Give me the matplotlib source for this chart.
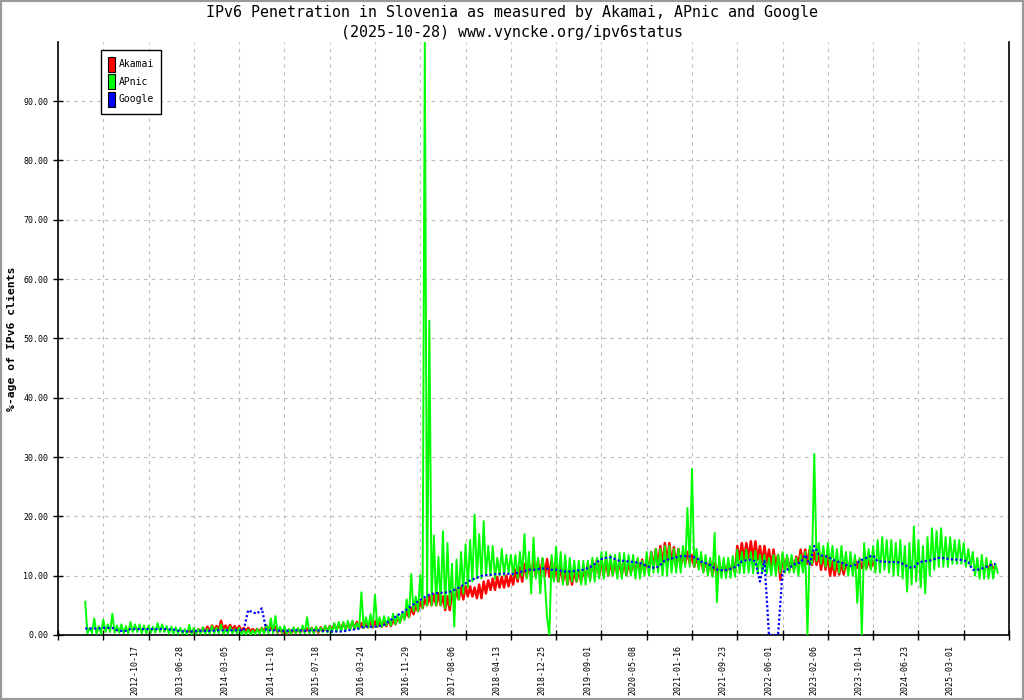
import numpy as np
import matplotlib
matplotlib.use("Agg")
import matplotlib.pyplot as plt
from matplotlib.patches import Patch, Rectangle

# Sample index axis: one sample per day, tick every 250 samples.
# Each column (every 25 samples) holds the daily high and low.
STEP = 25
X_MAX = 5250

tick_labels = [
    "2012-10-17", "2013-06-28", "2014-03-05", "2014-11-10", "2015-07-18",
    "2016-03-24", "2016-11-29", "2017-08-06", "2018-04-13", "2018-12-25",
    "2019-09-01", "2020-05-08", "2021-01-16", "2021-09-23", "2022-06-01",
    "2023-02-06", "2023-10-14", "2024-06-23", "2025-03-01",
]

# APnic, first column at sample 150
apnic_start = 150
apnic_hi = [
    5.6, 1.2, 2.8, 1.5, 2.6, 1.8, 3.6, 1.6, 1.8, 1.5, 2.2, 1.8, 1.8, 1.6, 1.6, 1.4,
    2.0, 1.8, 1.5, 1.4, 1.3, 1.2, 1.0, 1.7, 1.2, 1.0,
    1.3, 1.0, 1.5, 1.2, 1.8, 1.0, 1.4, 1.0, 1.2, 0.8, 0.9, 0.8, 1.0, 1.2, 1.6, 2.8,
    3.2, 1.4, 1.5, 1.0, 1.3, 1.2, 1.6, 3.0, 1.2, 1.4, 1.2, 1.6, 1.5,
    2.0, 2.2, 2.2, 2.4, 2.4, 2.0, 7.2, 3.0, 3.5, 6.8, 3.0, 3.2, 3.0, 3.6, 3.5,
    3.8, 6.0, 10.3, 6.5, 10.1, 100.0, 53.0, 16.8, 13.2, 17.5, 15.5, 12.0, 12.7,
    14.0, 15.3, 16.0, 20.3, 17.0, 19.2, 15.0, 15.0, 13.0, 14.5, 13.5, 13.5, 13.5, 14.0,
    17.0, 14.0, 16.4, 13.0, 13.0, 3.0,
    13.5, 14.9, 14.0, 13.5, 13.0, 12.5, 12.5, 12.5, 12.5, 13.0, 13.0, 14.0, 14.0, 13.5,
    13.5, 13.8, 13.8, 13.5, 13.5, 13.0, 12.5, 14.0, 14.0, 14.5, 14.5, 15.0, 15.0, 14.5, 14.5,
    15.0, 21.4, 28.0, 14.5, 14.0, 13.5, 13.0, 17.2, 13.3, 13.0, 13.0, 13.3, 14.4, 14.0,
    14.4, 14.0, 14.2, 13.5, 13.5, 13.0, 13.5, 13.5,
    14.0, 13.5, 13.5, 13.0, 13.5, 14.0, 15.0, 30.5, 15.5, 15.0, 15.5, 15.0, 14.5, 15.0,
    14.0, 14.0, 13.5, 13.0, 15.5, 14.5,
    15.0, 16.0, 16.5, 16.0, 16.0, 15.5, 16.0, 15.0, 15.5, 18.3, 16.0, 15.0, 16.5, 18.0,
    17.5, 18.0, 16.5, 16.5, 16.0, 16.0, 15.5, 14.5, 14.0, 13.0, 13.5, 13.0, 12.5, 12.0,
]
apnic_lo = [
    0.3, 0.3, 0.2, 0.2, 0.5, 0.5, 0.4, 0.4, 0.3, 0.3, 0.5, 0.5, 0.3, 0.3, 0.4, 0.4,
    0.5, 0.5, 0.2, 0.2, 0.2, 0.2, 0.1, 0.1, 0.2, 0.2,
    0.2, 0.2, 0.3, 0.3, 0.2, 0.2, 0.3, 0.3, 0.1, 0.1, 0.1, 0.1, 0.2, 0.2, 0.3, 0.3,
    0.4, 0.4, 0.2, 0.2, 0.3, 0.3, 0.3, 0.3, 0.3, 0.5, 0.5, 0.4, 0.4,
    0.6, 0.6, 0.8, 0.8, 1.0, 1.0, 1.2, 1.2, 1.4, 1.4, 1.4, 1.6, 1.6, 1.8, 2.0,
    2.5, 3.0, 4.0, 4.0, 4.5, 5.0, 5.0, 5.0, 5.0, 4.5, 5.0, 1.4, 6.0,
    7.0, 8.0, 9.0, 9.5, 9.5, 10.0, 10.0, 9.5, 10.0, 10.0, 10.5, 10.0, 9.5, 10.0,
    9.5, 7.0, 9.5, 7.0, 9.0, 0.0,
    9.0, 9.0, 8.5, 8.5, 9.0, 9.0, 8.5, 8.5, 9.0, 9.0, 9.5, 9.5, 10.0, 10.0,
    9.5, 9.5, 10.0, 10.0, 9.5, 9.5, 10.0, 10.0, 10.5, 10.5, 10.0, 10.0, 10.5, 10.5, 10.5,
    11.5, 11.5, 11.5, 11.0, 10.5, 10.0, 9.8, 5.5, 9.6, 9.6, 9.6, 9.8, 10.4, 10.4,
    10.5, 10.4, 10.4, 10.4, 10.4, 10.0, 10.0, 10.5,
    10.5, 10.5, 10.5, 10.0, 10.5, 0.0, 12.0, 12.5, 12.0, 11.5, 11.5, 11.0, 10.5, 11.0,
    10.0, 10.0, 5.4, 0.0, 11.0, 11.0,
    10.5, 10.5, 11.0, 10.5, 10.0, 10.0, 9.5, 7.3, 8.5, 9.0, 8.0, 7.0, 10.0, 11.0,
    11.5, 11.5, 11.5, 12.0, 12.0, 12.0, 11.5, 11.5, 10.0, 9.5, 9.5, 9.5, 9.5, 10.5,
]

# Akamai, first column at sample 725, no data for a while after 2023-10
akamai_start = 725
akamai_hi = [
    0.7, 0.9, 1.0, 1.2, 1.4, 1.6, 1.5, 2.4, 1.6, 1.7, 1.5, 1.5, 1.2, 1.2, 1.0, 1.0,
    1.2, 1.6, 1.5, 1.4, 1.0, 0.9, 0.9, 1.0, 1.0, 1.1, 1.1, 1.2, 1.2, 1.3, 1.4, 1.5,
    1.8, 1.8, 2.0, 2.0, 2.2, 2.2, 2.0, 2.0, 2.3, 2.3, 2.2, 2.2, 2.6, 2.6, 3.0,
    3.4, 4.0, 4.6, 5.0, 5.6, 6.0, 6.6, 6.8, 7.0, 6.5, 6.5, 7.0, 7.6, 8.0, 8.2, 8.2,
    8.0, 8.5, 9.0, 9.2, 9.5, 9.8, 9.8, 10.0, 10.0, 11.0, 11.5, 12.0, 12.0, 12.5, 12.5,
    12.8, 12.8, 12.7,
    11.5, 11.5, 11.0, 11.0, 11.0, 11.0, 10.8, 12.0, 12.5, 12.7, 12.7, 12.7, 12.5, 12.5,
    12.5, 12.5, 12.2, 12.5, 12.7, 12.7, 12.5, 14.0, 14.5, 15.0, 15.5, 15.5, 14.8, 14.5,
    14.0, 14.0, 13.5, 13.2, 13.0, 12.7, 12.5, 12.1, 12.0, 12.0, 12.0, 12.5,
    15.0, 15.5, 15.5, 15.8, 15.8, 15.0, 15.0, 14.4, 14.4, 13.5, 13.5, 13.0, 13.0, 13.2,
    14.4, 14.4, 14.4, 14.0, 14.0, 13.6, 13.6, 12.4, 12.4, 12.2, 12.2, 12.7, 12.7, 12.7,
    12.7, 12.5, 12.5,
] + [np.nan] * 24 + [12.0, 12.0]
akamai_lo = [
    0.3, 0.4, 0.4, 0.6, 0.6, 0.8, 0.8, 0.9, 0.9, 0.8, 0.8, 0.7, 0.7, 0.6, 0.6, 0.5,
    0.5, 0.7, 0.7, 0.4, 0.4, 0.2, 0.2, 0.4, 0.4, 0.5, 0.5, 0.4, 0.4, 0.6, 0.6, 0.9,
    0.9, 1.0, 1.0, 1.1, 1.1, 1.2, 1.2, 1.3, 1.3, 1.4, 1.4, 1.5, 1.5, 1.8, 2.2,
    2.8, 3.0, 3.5, 4.0, 4.5, 5.0, 5.0, 5.0, 5.0, 4.2, 4.2, 5.5, 6.0, 6.0, 6.5, 6.5,
    6.2, 6.2, 7.0, 7.6, 7.6, 8.0, 8.0, 8.2, 8.5, 9.0, 9.0, 9.8, 9.8, 10.0, 9.9,
    9.9, 9.8, 9.5,
    9.0, 9.0, 8.5, 8.5, 9.0, 9.0, 9.5, 9.5, 10.0, 10.0, 10.0, 10.0, 10.2, 10.2,
    10.1, 10.1, 10.5, 10.5, 10.5, 10.5, 11.3, 11.3, 11.5, 11.5, 12.0, 12.0, 11.5, 11.5,
    12.1, 12.1, 11.5, 11.5, 10.7, 10.7, 10.1, 10.1, 10.5, 10.5, 10.5, 10.5,
    12.7, 12.7, 13.0, 12.7, 12.7, 12.0, 12.0, 11.5, 11.5, 9.3, 11.0, 11.0, 11.0, 12.0,
    12.0, 12.0, 11.8, 11.8, 11.0, 11.0, 10.0, 10.0, 10.2, 10.2, 11.0, 11.0, 11.3, 11.3,
    11.3, 11.3, 11.3,
] + [np.nan] * 24 + [11.0, 11.3]

# Google, one value per column, first column at sample 150
google_start = 150
google = [
    1.1, 1.1, 1.1, 1.1, 1.2, 1.2, 1.2, 0.8, 0.7, 0.7, 1.0, 1.0, 1.0, 1.0, 1.0, 1.0,
    1.0, 1.0, 1.0, 0.9, 0.9, 0.6, 0.6, 0.6, 0.6, 0.7, 0.7, 0.7, 0.7, 0.8, 0.8, 0.8,
    0.8, 0.8, 0.8, 0.8,
    4.2, 3.8, 3.6, 4.5, 0.8, 0.8, 0.8, 0.7, 0.7, 0.7, 0.8, 0.8, 0.7, 0.7, 0.8, 0.8,
    0.7, 0.7, 0.6, 0.6, 0.6, 0.6, 0.8, 0.9, 1.0, 1.3, 1.4, 1.4, 1.4, 1.5,
    1.7, 2.3, 2.8, 3.3, 3.8, 4.3, 4.9, 5.4, 5.9, 6.4, 6.8, 7.0, 7.1, 7.1, 7.2, 7.4,
    7.8, 8.2, 8.7, 9.2, 9.5, 9.8, 10.1, 10.1, 10.2, 10.3, 10.3, 10.4, 10.2, 10.4,
    10.6, 10.8, 11.0, 11.0, 11.1,
    11.2, 11.2, 11.0, 11.0, 10.8, 10.7, 10.7, 10.8, 10.9, 11.0, 11.3, 11.6, 12.3, 12.8,
    13.0, 13.1, 12.8, 12.5, 12.5, 12.4, 12.3, 12.2, 12.0, 11.6, 11.4, 11.3, 11.8, 12.6,
    12.8, 13.0, 13.2, 13.3, 13.3, 13.2, 13.0, 12.4, 12.1, 11.8, 11.2, 10.9, 10.9, 11.0,
    11.3, 11.6, 12.4, 12.6, 12.7, 12.4, 9.0, 12.5,
    0.0, 0.0, 0.0, 10.6, 11.0, 11.6, 12.1, 12.2, 13.5, 11.9, 15.0, 13.5, 13.3, 13.2,
    12.7, 12.4, 12.2, 11.8, 11.6, 11.8, 12.5, 12.8, 13.2, 13.4, 12.4, 12.4, 12.3, 12.3,
    12.3, 12.2, 11.8, 11.4, 11.4, 12.2, 12.4, 12.5, 12.6, 13.0, 13.0, 12.9, 12.8, 12.7,
    12.7, 12.6, 12.3, 11.0, 11.0, 11.2, 11.5, 11.8, 12.0,
]

MONO = "DejaVu Sans Mono"


def daily_swing(start, hi, lo):
    """Interleave the high and low of each column, half a column apart."""
    values = np.ravel(np.column_stack([hi, lo]))
    x = start + (STEP / 2) * np.arange(len(values))
    return x, values


def main():
    fig = plt.figure(figsize=(10.24, 7.0), dpi=100)
    fig.patch.set_facecolor("white")
    ax = fig.add_axes([58 / 1024, 65 / 700, 951 / 1024, 593.3 / 700])

    x, y = daily_swing(akamai_start, akamai_hi, akamai_lo)
    ax.plot(x, y, color="#ff0000", lw=1.8, zorder=3)
    x, y = daily_swing(apnic_start, apnic_hi, apnic_lo)
    ax.plot(x, y, color="#00ff00", lw=1.4, zorder=4)
    gx = google_start + STEP * np.arange(len(google))
    ax.plot(gx, google, color="#0000ff", lw=1.6, linestyle=(0, (1, 1)), zorder=5)

    ax.set_xlim(0, X_MAX)
    ax.set_ylim(0, 100)

    # major ticks carry the grid, minor ticks carry the date labels
    ax.set_xticks(np.arange(0, X_MAX + 1, 250))
    ax.set_xticklabels([])
    label_pos = np.arange(len(tick_labels)) * 250 + 423
    ax.set_xticks(label_pos, minor=True)
    ax.set_xticklabels(tick_labels, minor=True, rotation=90, fontsize=6,
                       family=MONO, va="top", ha="center")
    ax.tick_params(axis="x", which="minor", length=0, pad=7)
    ax.tick_params(axis="x", which="major", direction="inout", length=7, width=1)

    yt = np.arange(0, 91, 10)
    ax.set_yticks(yt)
    ax.set_yticklabels([f"{v:.2f}" for v in yt], fontsize=6, family=MONO)
    ax.tick_params(axis="y", direction="inout", length=7, width=1, pad=3.5)

    ax.grid(True, which="major", color="#bbbbbb", linestyle=(0, (3, 4)), lw=0.8)
    ax.set_axisbelow(True)

    ax.spines["top"].set_visible(False)
    for s in ("left", "bottom", "right"):
        ax.spines[s].set_linewidth(1.2)

    ax.set_ylabel("%-age of IPv6 clients", fontsize=8.2, family=MONO,
                  fontweight="bold")
    ax.yaxis.set_label_coords(-0.0435, 0.5)

    handles = [
        Patch(facecolor="#ff0000", edgecolor="black", lw=0.8, label="Akamai"),
        Patch(facecolor="#00ff00", edgecolor="black", lw=0.8, label="APnic"),
        Patch(facecolor="#0000ff", edgecolor="black", lw=0.8, label="Google"),
    ]
    leg = ax.legend(handles=handles, loc="upper left",
                    bbox_to_anchor=(0.0452, 0.986), borderaxespad=0,
                    prop={"family": MONO, "size": 7}, handlelength=0.72,
                    handleheight=2.0, handletextpad=0.4, labelspacing=0.25,
                    borderpad=0.7, fancybox=False, framealpha=1)
    leg.get_frame().set_edgecolor("black")
    leg.get_frame().set_linewidth(1)
    leg.set_zorder(10)

    fig.text(0.5, 1 - 13 / 700,
             "IPv6 Penetration in Slovenia as measured by Akamai, APnic and Google",
             ha="center", va="center", fontsize=10.8, family=MONO)
    fig.text(0.5, 1 - 32 / 700, "(2025-10-28) www.vyncke.org/ipv6status",
             ha="center", va="center", fontsize=10.8, family=MONO)

    fig.patches.append(Rectangle((0, 0), 1, 1, transform=fig.transFigure,
                                 fill=False, edgecolor="#999999", lw=3))

    fig.savefig("out.png", dpi=100)
    plt.close(fig)


if __name__ == "__main__":
    main()
